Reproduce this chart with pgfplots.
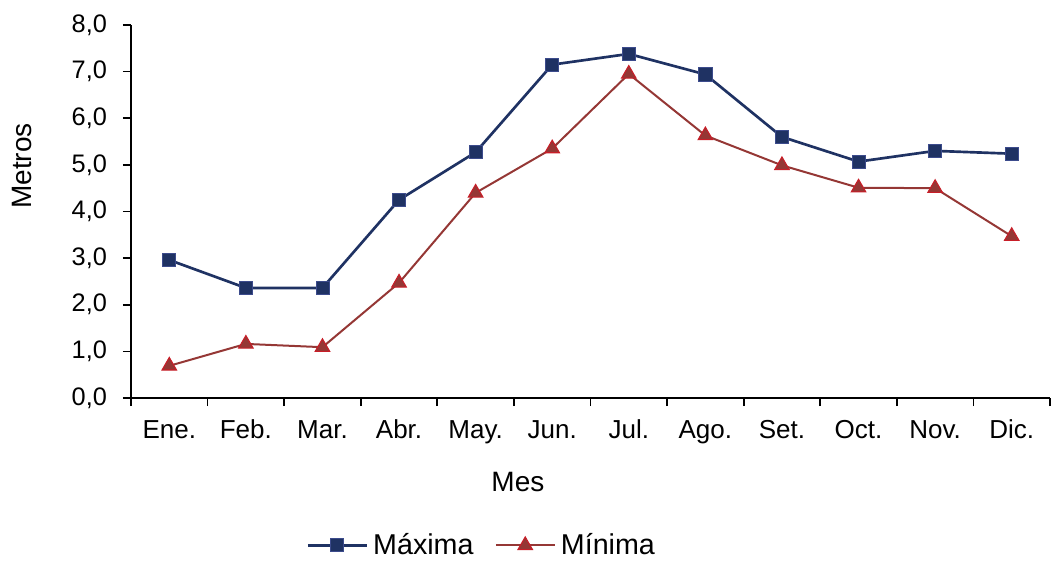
\documentclass[border=0pt]{standalone}
\usepackage{pgfplots}
\pgfplotsset{compat=1.18}
\usepackage{fontspec}
\setmainfont{Liberation Sans}
\definecolor{maxc}{RGB}{31,50,99}
\definecolor{maxe}{RGB}{60,75,140}
\definecolor{minc}{RGB}{149,55,53}
\definecolor{mine}{RGB}{200,30,40}

\begin{document}
\begin{tikzpicture}
\begin{axis}[
    scale only axis,
    width=689.25pt, height=279.75pt,
    xmin=-0.5, xmax=11.5,
    ymin=0, ymax=8,
    axis lines*=left,
    axis line style={line width=1.3pt},
    tick align=outside,
    major tick length=6pt,
    minor tick length=6pt,
    xtick={0,...,11},
    xticklabels={Ene.,Feb.,Mar.,Abr.,May.,Jun.,Jul.,Ago.,Set.,Oct.,Nov.,Dic.},
    minor xtick={-0.5,0.5,...,11.5},
    every major x tick/.append style={draw=none},
    every minor x tick/.append style={draw=black, line width=1.3pt},
    every major y tick/.append style={draw=black, line width=1.3pt},
    ytick={0,1,...,8},
    yticklabel style={/pgf/number format/use comma, /pgf/number format/fixed,
        /pgf/number format/fixed zerofill, /pgf/number format/precision=1,
        /pgf/number format/assume math mode=true,
        font=\fontsize{19}{22}\selectfont, xshift=-8.5pt},
    xticklabel style={font=\fontsize{19.5}{22}\selectfont, anchor=base, yshift=-24pt},
    xlabel={Mes}, ylabel={Metros},
    every axis x label/.style={at={(axis description cs:0.421,-0.225)}, anchor=center,
        font=\fontsize{21}{24}\selectfont},
    every axis y label/.style={at={(axis description cs:-0.1186,0.622)}, anchor=center,
        rotate=90, font=\fontsize{21}{24}\selectfont},
    legend style={draw=none, fill=none, inner sep=0pt, at={(axis description cs:0.382,-0.395)}, anchor=center,
        legend columns=-1, font=\fontsize{21.5}{24}\selectfont,
        /tikz/every even column/.append style={column sep=14pt},
        /tikz/every odd column/.append style={column sep=2pt}},
    legend image code/.code={
        \draw[mark repeat=2,mark phase=2,#1] plot coordinates {(0pt,0pt) (22pt,0pt) (44pt,0pt)};},
]
\addplot[color=maxc, line width=2pt, mark=square*, mark size=4.9pt,
    mark options={fill=maxc, draw=maxe, line width=0.6pt}] coordinates {
    (0,2.96) (1,2.36) (2,2.36) (3,4.25) (4,5.27) (5,7.15)
    (6,7.38) (7,6.94) (8,5.60) (9,5.07) (10,5.30) (11,5.24)
};
\addlegendentry{Máxima}
\addplot[color=minc, line width=1.5pt, mark=triangle*, mark size=6.3pt,
    mark options={fill=minc, draw=mine, line width=0.8pt}] coordinates {
    (0,0.69) (1,1.16) (2,1.09) (3,2.47) (4,4.40) (5,5.35)
    (6,6.95) (7,5.63) (8,4.99) (9,4.51) (10,4.50) (11,3.47)
};
\addlegendentry{Mínima}
\end{axis}
\pgfresetboundingbox
\useasboundingbox (-98.25pt,-122.25pt) rectangle (694.5pt,298.5pt);
\end{tikzpicture}
\end{document}
